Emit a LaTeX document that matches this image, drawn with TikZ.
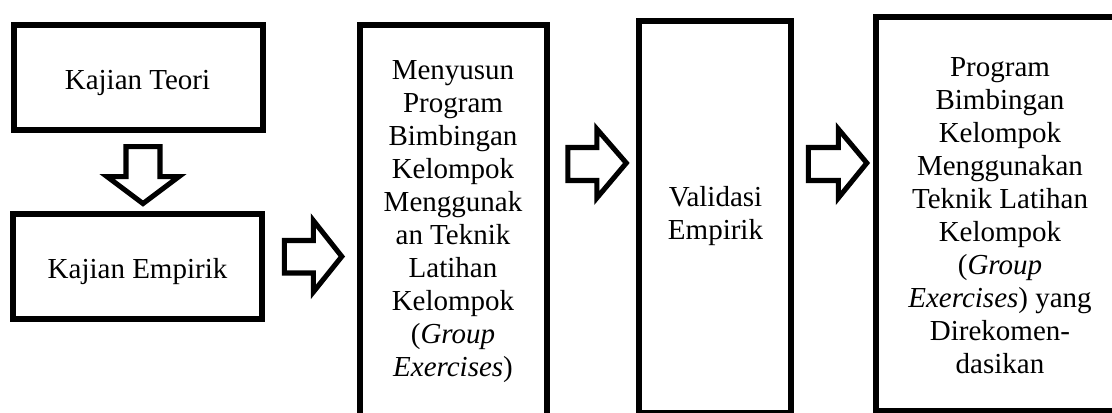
\documentclass[tikz,border=0pt]{standalone}
\usepackage{fontspec}
\setmainfont{Liberation Serif}
\usetikzlibrary{calc}
\begin{document}
\begin{tikzpicture}[x=0.75pt,y=-0.75pt,
  stepbox/.style={draw=black,line width=4.2pt,fill=white,inner sep=0pt},
  label/.style={inner sep=0pt,anchor=north,align=center,
    font=\fontsize{21.75}{24.8}\selectfont,execute at begin node=\strut},
  blockarrow/.style={draw=black,line width=3.8pt,fill=white,line join=miter}]
\clip (0,0) rectangle (1112,413);
\fill[white] (0,0) rectangle (1112,413);

% boxes (centre-line geometry)
\node[stepbox,minimum width=249.5*0.75pt,minimum height=105.5*0.75pt] (teori) at (138.5,77.5) {};
\node[stepbox,minimum width=249.5*0.75pt,minimum height=105.5*0.75pt] (empirik) at (137.5,266.5) {};
\node[stepbox,minimum width=187*0.75pt,minimum height=420*0.75pt] (susun) at (453.5,235) {};
\node[stepbox,minimum width=152*0.75pt,minimum height=392*0.75pt] (validasi) at (715,217) {};
\node[stepbox,minimum width=260*0.75pt,minimum height=394*0.75pt] (hasil) at (1006,214) {};

% texts
\node[label] (tTeori) at (137.5,89.3-23.2) {Kajian Teori};
\node[label] (tEmpirik) at (137.5,278-23.2) {Kajian Empirik};
\node[label] (tSusun) at (453,83-23.2) {Menyusun\\Program\\Bimbingan\\Kelompok\\Menggunak\\an Teknik\\Latihan\\Kelompok\\(\textit{Group}\\\textit{Exercises})};
\node[label] (tValidasi) at (715.5,209-23.2) {Validasi\\Empirik};
\node[label] (tHasil) at (1000,80-23.2) {Program\\Bimbingan\\Kelompok\\Menggunakan\\Teknik Latihan\\Kelompok\\(\textit{Group}\\\textit{Exercises}) yang\\Direkomen-\\dasikan};

% block arrows between the boxes
\draw[blockarrow] ($(teori.south)+(4.5,13.5)$)
  -- ++(-17,0) -- ++(0,30) -- ++(-19,0) -- ++(36,27) -- ++(36,-27) -- ++(-19,0) -- ++(0,-30) -- cycle;
\draw[blockarrow] ($(empirik.east)+(19.25,-26)$)
  -- ++(29,0) -- ++(0,-20) -- ++(28.5,36) -- ++(-28.5,35.5) -- ++(0,-19) -- ++(-29,0) -- cycle;
\draw[blockarrow] ($(susun.east)+(18,-87.5)$)
  -- ++(29,0) -- ++(0,-18.5) -- ++(29.5,34) -- ++(-29.5,35) -- ++(0,-17.5) -- ++(-29,0) -- cycle;
\draw[blockarrow] ($(validasi.east)+(14.5,-69.5)$)
  -- ++(30,0) -- ++(0,-18.5) -- ++(28.5,34) -- ++(-28.5,35) -- ++(0,-17.5) -- ++(-30,0) -- cycle;
\end{tikzpicture}
\end{document}
